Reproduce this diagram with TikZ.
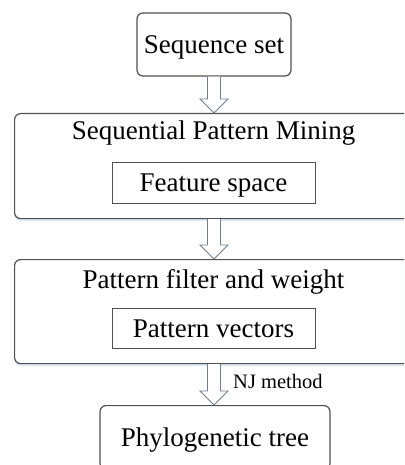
\documentclass[tikz,border=0pt]{standalone}
\usepackage{fontspec}
\setmainfont{Liberation Serif}
\usetikzlibrary{calc,shadows}
\definecolor{boxline}{RGB}{80,80,80}
\definecolor{arrowline}{RGB}{110,125,145}
\definecolor{shadowblue}{RGB}{222,234,246}
\tikzset{
  txt/.style={font=\fontsize{27}{32}\selectfont, inner sep=0pt},
  roundbox/.style={draw=boxline, line width=1.2pt, fill=white, rounded corners=6pt,
    inner sep=0pt, font=\fontsize{27}{32}\selectfont, text height=18pt, text depth=0pt},
  bigbox/.style={roundbox, drop shadow={shadow xshift=0pt, shadow yshift=-2.5pt, fill=shadowblue, opacity=1}},
  inbox/.style={draw=boxline, line width=1pt, fill=white, inner sep=0pt,
    font=\fontsize{27}{32}\selectfont, text height=18pt, text depth=0pt},
  hollowarrow/.style={draw=arrowline, line width=0.9pt, fill=white, line join=miter},
}
% hollow block arrow from #1 down to #2
\newcommand\flowarrow[2]{%
  \draw[hollowarrow] let \p1=(#1), \p2=(#2) in
    (\x1-6.5pt,\y1) -- (\x1-6.5pt,\y2+14pt) -- (\x1-14pt,\y2+14pt) -- (\x1,\y2)
    -- (\x1+14pt,\y2+14pt) -- (\x1+6.5pt,\y2+14pt) -- (\x1+6.5pt,\y1);}
\begin{document}
\begin{tikzpicture}[x=1pt,y=-1pt]
  \clip (0,0) rectangle (404,465);
  \fill[white] (0,0) rectangle (404,465);

  % input
  \node[roundbox, minimum width=154pt, minimum height=63pt] (seq) at (214,44.5) {Sequence set};

  % mining stage
  \node[bigbox, minimum width=399pt, minimum height=105pt, anchor=north west] (mine) at (14,113) {};
  \node[txt, anchor=base] (mineT) at (213.5,140) {Sequential Pattern Mining};
  \node[inbox, minimum width=203pt, minimum height=41pt] (feat) at (213.5,182.5) {Feature space};

  % filtering stage
  \node[bigbox, minimum width=399pt, minimum height=104pt, anchor=north west] (filt) at (14,259) {};
  \node[txt, anchor=base] (filtT) at (213.5,288) {Pattern filter and weight};
  \node[inbox, minimum width=203pt, minimum height=40pt] (vec) at (213.5,328) {Pattern vectors};

  % output
  \node[roundbox, minimum width=230pt, minimum height=64pt, anchor=north] (tree) at (215,405) {Phylogenetic tree};

  % connectors
  \flowarrow{seq.south}{mine.north -| seq.south}
  \flowarrow{mine.south -| seq.south}{filt.north -| seq.south}
  \flowarrow{filt.south -| seq.south}{tree.north -| seq.south}

  \node[font=\fontsize{20.5}{24}\selectfont, inner sep=0pt, anchor=base west] (nj) at (233,388) {NJ method};
\end{tikzpicture}
\end{document}
